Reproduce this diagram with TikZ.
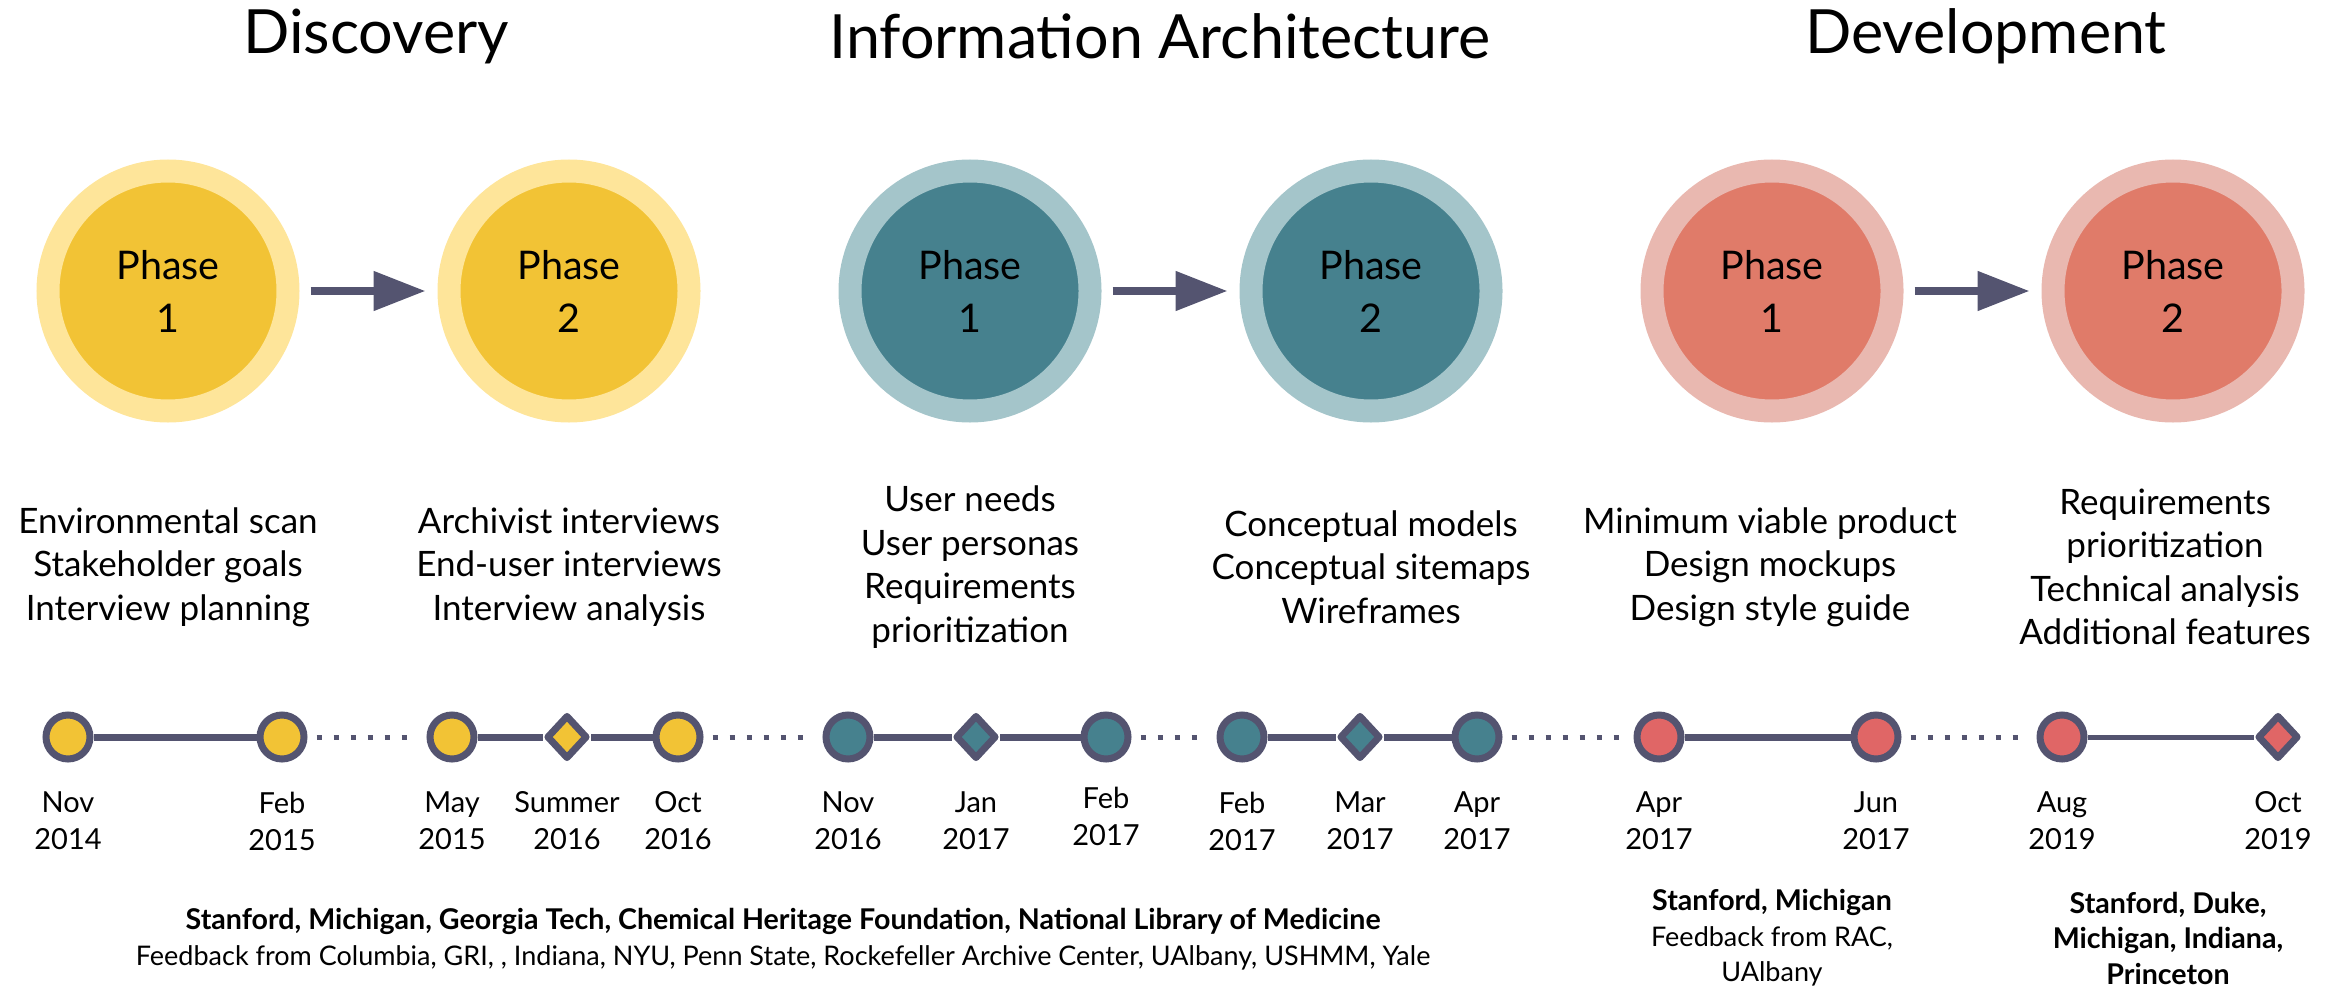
\documentclass[tikz,border=0pt]{standalone}
\usepackage{fontspec}
\setmainfont{Lato}
\usetikzlibrary{arrows.meta,shapes.geometric}
\definecolor{slate}{HTML}{545470}
\definecolor{yelin}{HTML}{F2C335}
\definecolor{yelout}{HTML}{FEE59A}
\definecolor{tealin}{HTML}{46818E}
\definecolor{tealout}{HTML}{A4C5CA}
\definecolor{redin}{HTML}{E07B69}
\definecolor{redout}{HTML}{E9B8B0}
\definecolor{reddot}{HTML}{E06666}
\tikzset{
  phase/.style={circle,minimum size=240pt,inner sep=0pt,line width=23pt,
    align=center,font=\fontsize{39.5}{53}\selectfont},
  flow/.style={slate,line width=8pt,-{Triangle[length=52pt,width=38pt]},
    shorten <=11pt,shorten >=12pt},
  dotmark/.style={circle,draw=slate,line width=7pt,minimum size=44pt,inner sep=0pt},
  gemmark/.style={diamond,draw=slate,line width=7pt,line join=round,
    minimum width=41pt,minimum height=44pt,inner sep=0pt},
  solidline/.style={slate,line width=7pt},
  dotline/.style={slate,line width=5pt,dash pattern=on 5pt off 12pt,shorten <=9pt,shorten >=9pt},
  title/.style={font=\fontsize{61}{70}\selectfont},
  tasks/.style={align=center,font=\fontsize{35}{43.5}\selectfont},
  date/.style={align=center,font=\fontsize{29}{37}\selectfont},
  partners/.style={align=center,font=\fontsize{27}{35.5}\selectfont}
}
\newcommand\inst[1]{{\fontsize{28.6}{35.5}\selectfont\bfseries #1}}
\begin{document}
\begin{tikzpicture}[x=1pt,y=-1pt]
\useasboundingbox (0,0) rectangle (2341,987);
\def\cy{291}
\def\ty{737}
  \node[title] (tdisc) at (376,36) {Discovery};
  \node[title] (tinfo) at (1160,36) {Information Architecture};
  \node[title] (tdev) at (1986,36) {Development};

  \foreach \n/\x/\ci/\co/\k in {d1/168/yelin/yelout/1,d2/569/yelin/yelout/2,
      i1/970/tealin/tealout/1,i2/1371/tealin/tealout/2,
      v1/1772/redin/redout/1,v2/2173/redin/redout/2} {
    \node[phase,fill=\ci,draw=\co] (\n) at (\x,\cy) {Phase\\\k};
  }
  \draw[flow] (d1) -- (d2);
  \draw[flow] (i1) -- (i2);
  \draw[flow] (v1) -- (v2);

  \node[tasks] (td1) at (168,567) {Environmental scan\\Stakeholder goals\\Interview planning};
  \node[tasks] (td2) at (569,567) {Archivist interviews\\End-user interviews\\Interview analysis};
  \node[tasks] (ti1) at (970,567) {User needs\\User personas\\Requirements\\prioritization};
  \node[tasks] (ti2) at (1371,567) {Conceptual models\\Conceptual sitemaps\\Wireframes};
  \node[tasks] (tv1) at (1770,567) {Minimum viable product\\Design mockups\\Design style guide};
  \node[tasks] (tv2) at (2165,567) {Requirements\\prioritization\\Technical analysis\\Additional features};

  \foreach \n/\x/\kind/\col/\m/\yr/\ly in {
      a/68/dotmark/yelin/Nov/2014/821, b/282/dotmark/yelin/Feb/2015/821,
      c/452/dotmark/yelin/May/2015/821, d/567/gemmark/yelin/Summer/2016/821,
      e/678/dotmark/yelin/Oct/2016/821,
      f/848/dotmark/tealin/Nov/2016/821, g/976/gemmark/tealin/Jan/2017/821,
      h/1106/dotmark/tealin/Feb/2017/816,
      k/1242/dotmark/tealin/Feb/2017/821, l/1360/gemmark/tealin/Mar/2017/821,
      m/1477/dotmark/tealin/Apr/2017/821,
      n/1659/dotmark/reddot/Apr/2017/821, o/1876/dotmark/reddot/Jun/2017/821,
      p/2062/dotmark/reddot/Aug/2019/821, q/2278/gemmark/reddot/Oct/2019/821} {
    \node[\kind,fill=\col] (\n) at (\x,\ty) {};
    \node[date] (\n lab) at (\x,\ly) {\m\\\yr};
  }
  \draw[solidline] (a) -- (b);
  \draw[dotline] (b) -- (c);
  \draw[solidline] (c) -- (d);
  \draw[solidline] (d) -- (e);
  \draw[dotline] (e) -- (f);
  \draw[solidline] (f) -- (g);
  \draw[solidline] (g) -- (h);
  \draw[dotline] (h) -- (k);
  \draw[solidline] (k) -- (l);
  \draw[solidline] (l) -- (m);
  \draw[dotline] (m) -- (n);
  \draw[solidline] (n) -- (o);
  \draw[dotline] (o) -- (p);
  \draw[solidline,line width=5pt] (p) -- (q);

  \node[partners] (pdisc) at (783,939) {\inst{Stanford, Michigan, Georgia Tech, Chemical Heritage Foundation, National Library of Medicine}\\
    Feedback from Columbia, GRI, , Indiana, NYU, Penn State, Rockefeller Archive Center, UAlbany, USHMM, Yale};
  \node[partners] (pdev1) at (1772,938) {\inst{Stanford, Michigan}\\Feedback from RAC,\\UAlbany};
  \node[partners] (pdev2) at (2168,938) {\inst{Stanford, Duke,}\\\inst{Michigan, Indiana,}\\\inst{Princeton}};
\end{tikzpicture}
\end{document}
